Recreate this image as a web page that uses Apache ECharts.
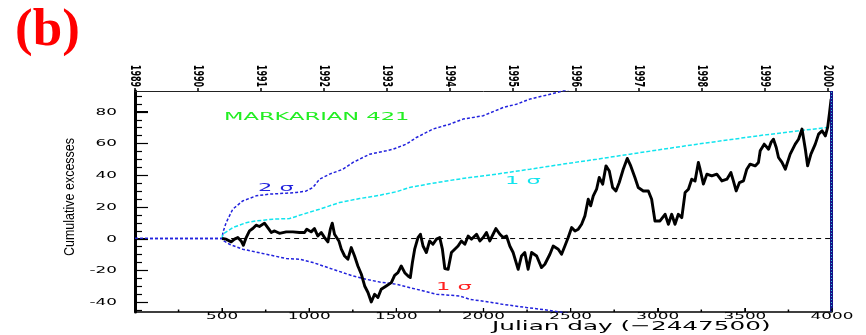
<!DOCTYPE html>
<html><head><meta charset="utf-8">
<script src="https://cdn.jsdelivr.net/npm/echarts@6/dist/echarts.min.js"></script>
<style>html,body{margin:0;padding:0;background:#fff}#c{width:866px;height:335px}</style>
</head><body><div id="c"></div>
<script>
// Cumulative excesses of Markarian 421 versus Julian day (offset 2447500)
const excessDays = [500, 503, 523, 552, 571, 590, 609, 622, 638, 657, 676, 695, 714, 743, 762, 782, 801, 829, 868, 906, 944, 973, 986, 1011, 1030, 1049, 1069, 1088, 1107, 1121, 1132, 1145, 1170, 1184, 1203, 1222, 1241, 1260, 1279, 1299, 1318, 1337, 1356, 1375, 1394, 1413, 1442, 1471, 1490, 1509, 1528, 1548, 1567, 1580, 1592, 1605, 1624, 1638, 1653, 1672, 1691, 1710, 1730, 1749, 1764, 1778, 1797, 1816, 1835, 1854, 1873, 1893, 1912, 1931, 1960, 1979, 1998, 2017, 2036, 2055, 2071, 2094, 2113, 2132, 2151, 2170, 2199, 2218, 2237, 2256, 2276, 2305, 2333, 2352, 2381, 2400, 2429, 2448, 2467, 2486, 2506, 2525, 2544, 2563, 2582, 2601, 2615, 2630, 2649, 2664, 2684, 2703, 2722, 2741, 2760, 2779, 2802, 2825, 2845, 2869, 2888, 2917, 2946, 2965, 2984, 3013, 3042, 3061, 3080, 3099, 3118, 3138, 3157, 3176, 3195, 3214, 3233, 3243, 3262, 3282, 3310, 3339, 3368, 3397, 3420, 3434, 3450, 3469, 3492, 3511, 3530, 3559, 3578, 3588, 3611, 3636, 3650, 3664, 3680, 3693, 3713, 3732, 3760, 3789, 3808, 3828, 3847, 3860, 3879, 3904, 3923, 3943, 3962, 3975, 3986, 3995];
const excessValues = [0, 0.6, -0.4, -2.1, -0.4, 0.6, -1.5, -4.2, 0.6, 4.8, 6.3, 8.4, 7.6, 9.7, 6.9, 3.8, 4.8, 3.3, 4.2, 4.2, 3.8, 3.8, 5.9, 4.2, 6.3, 1.6, 3.8, 0.6, -2.1, 5.9, 9.7, 2.7, -1.5, -6.7, -11, -13, -5.7, -11, -17.3, -22.5, -29.9, -34, -40, -35.1, -37.2, -32, -29.9, -27.8, -23.2, -21.5, -17.3, -21.5, -23.6, -24.6, -15.1, -6.7, 0.6, 2.7, -4.7, -8.8, -1.5, -3.6, -0.4, 0.6, -6.7, -18.9, -19.4, -8.8, -6.7, -4.7, -1.5, -3.6, 1.6, -0.4, 2.7, -1.5, 0.6, 3.8, -1.5, 2.7, 6.3, 2.7, 0.6, 1.6, -4.7, -8.8, -19.4, -11, -8.8, -19.4, -8.8, -11, -18.3, -16.2, -9.9, -4.7, -6.7, -9.9, -4.7, 0.6, 6.9, 4.8, 5.9, 9, 14.3, 24.8, 20.6, 26.9, 31.1, 38.5, 34.3, 45.8, 42.6, 32.2, 30, 35.3, 43.7, 50.5, 45.8, 38.5, 32.2, 30, 30, 24.8, 11.1, 11.1, 15.3, 9, 15.3, 9, 15.3, 13.2, 29, 31.1, 37.4, 36.3, 48, 43.7, 34.3, 40.6, 39.5, 40.6, 36.3, 37.4, 41.6, 36.3, 30, 35.3, 36.3, 43.7, 46.9, 45.8, 48, 55.3, 59.5, 56.3, 60.6, 62.6, 57.4, 51.1, 48, 43.7, 53.2, 59.5, 62.6, 69, 56.3, 45.8, 53.2, 59.5, 65.8, 67.9, 64.7, 70, 79.5, 88];

// +2 sigma envelope
const sigma2UpDays = [0, 500, 505, 523, 561, 618, 695, 772, 868, 925, 983, 1021, 1059, 1117, 1193, 1251, 1347, 1442, 1480, 1557, 1615, 1710, 1806, 1883, 1998, 2113, 2190, 2266, 2362, 2457, 2560];
const sigma2UpValues = [0, 0, 4, 10, 18.5, 23.7, 26.9, 28, 28.6, 29, 30, 32.2, 37.4, 40.6, 43.7, 48, 53.2, 55.3, 56.3, 59.5, 63.7, 69, 72.1, 75.3, 77.4, 82.6, 84.7, 87.9, 90.4, 93.1, 96];
// +1 sigma envelope
const sigma1UpDays = [500, 503, 561, 638, 695, 791, 887, 963, 1059, 1174, 1289, 1404, 1500, 1576, 1690, 1800, 1921, 2076, 2266, 2456, 2650, 2841, 3030, 3226, 3420, 3605, 3800, 3990];
const sigma1UpValues = [0, 2.7, 6.9, 10, 11.1, 12.2, 12.6, 15.3, 18.5, 22.7, 25.2, 27.3, 29.5, 32.2, 34.5, 36.5, 38.5, 40.6, 43.7, 46.9, 50, 53.2, 56.3, 59.5, 62.4, 65.2, 67.8, 70.2];
// -1 sigma envelope
const sigma1DownDays = [0, 500, 510, 542, 618, 753, 868, 944, 1021, 1136, 1251, 1328, 1404, 1500, 1730, 1864, 1921, 2055, 2113, 2247, 2343, 2439, 2520];
const sigma1DownValues = [0, 0, -1.5, -3.6, -6.7, -9.9, -12.6, -13, -15.1, -19.4, -23.6, -25.7, -27.4, -28.8, -35.1, -36.2, -38.3, -40.4, -41.5, -43.5, -44.8, -46.3, -48];

// Axis labels and tick positions
const xTickLabels = [500, 1000, 1500, 2000, 2500, 3000, 3500, 4000];
const xMinorTicks = [250, 750, 1250, 1750, 2250, 2750, 3250, 3750];
const yTickLabels = [-40, -20, 0, 20, 40, 60, 80];
const yMinorTicks = [-45, -35, -30, -25, -15, -10, -5, 5, 10, 15, 25, 30, 35, 45, 50, 55, 65, 70, 75, 85, 90];
const yearLabels = ['1989', '1990', '1991', '1992', '1993', '1994', '1995', '1996', '1997', '1998', '1999', '2000'];
const yearDays = [0, 362, 723, 1085, 1446, 1808, 2169, 2531, 2892, 3254, 3615, 3977];

const pairs = (xs, ys) => xs.map((x, i) => [x, ys[i]]);
const FONT = 'DejaVu Sans';
const Y_MIN = -46.3, Y_MAX = 93;

const chart = echarts.init(document.getElementById('c'), null, { renderer: 'canvas' });

// built-in labels stay invisible; the stretched tick labels are drawn as graphics below
const ghostLabel = { show: true, color: 'rgba(0,0,0,0)' };
const option = {
  animation: false,
  grid: { left: 135, right: 34, top: 91, bottom: 23 },
  xAxis: [{
    type: 'value', min: 0, max: 4000, position: 'bottom',
    axisLine: { show: true, onZero: false, lineStyle: { color: '#000', width: 1.5 } },
    axisTick: { show: true, inside: true, length: 4, customValues: xTickLabels, lineStyle: { color: '#000' } },
    axisLabel: ghostLabel, splitLine: { show: false }
  }, {
    type: 'value', min: 0, max: 4000, position: 'top',
    axisLine: { show: true, onZero: false, lineStyle: { color: '#222', width: 1 } },
    axisTick: { show: true, inside: false, length: 3, customValues: yearDays, lineStyle: { color: '#000', width: 1.5 } },
    axisLabel: ghostLabel, splitLine: { show: false }
  }],
  yAxis: {
    type: 'value', min: Y_MIN, max: Y_MAX, position: 'left',
    axisLine: { show: true, onZero: false, lineStyle: { color: '#000', width: 3 } },
    axisTick: { show: true, inside: true, length: 13, customValues: yTickLabels, lineStyle: { color: '#000' } },
    axisLabel: ghostLabel, splitLine: { show: false }
  },
  series: [
    {
      name: 'zero', type: 'line', data: [[500, 0], [4000, 0]], symbol: 'none', silent: true,
      lineStyle: { color: '#000', width: 1, type: [5, 4] }
    },
    {
      name: '+2 sigma', type: 'line', data: pairs(sigma2UpDays, sigma2UpValues), symbol: 'none', clip: true,
      lineStyle: { color: '#2222dd', width: 1.5, type: [3, 2] }
    },
    {
      name: '+1 sigma', type: 'line', data: pairs(sigma1UpDays, sigma1UpValues), symbol: 'none', clip: true,
      lineStyle: { color: '#11e4ee', width: 1.5, type: [4, 2] }
    },
    {
      name: '-1 sigma', type: 'line', data: pairs(sigma1DownDays, sigma1DownValues), symbol: 'none', clip: true,
      lineStyle: { color: '#2222dd', width: 1.5, type: [3, 2] }
    },
    {
      name: 'excess', type: 'line', data: pairs(excessDays, excessValues), symbol: 'none', clip: true,
      lineStyle: { color: '#000', width: 2.9, join: 'round' },
      markLine: {
        silent: true, symbol: 'none', label: { show: false },
        data: [
          { xAxis: 3996, lineStyle: { color: '#141488', width: 3, type: 'solid' } },
          { xAxis: 3996, lineStyle: { color: '#33c8e0', width: 1, type: [1, 2] } }
        ]
      }
    }
  ]
};
chart.setOption(option);

// Ticks, tick labels and annotations, placed through the grid's coordinate system
const toPx = (x, y) => chart.convertToPixel({ gridIndex: 0 }, [x, y]);
const yBottom = toPx(0, Y_MIN)[1];
const yTop = toPx(0, Y_MAX)[1];
const xLeft = toPx(0, 0)[0];
const tickLine = (x1, y1, x2, y2, w) => ({
  type: 'line', z: 10,
  shape: { x1: x1, y1: y1, x2: x2, y2: y2 }, style: { stroke: '#000', lineWidth: w }
});

const graphics = [];
xTickLabels.forEach(v => {
  const px = toPx(v, 0)[0];
  graphics.push(tickLine(px, yBottom, px, yBottom - 4, 1.3));
  graphics.push({
    type: 'text', x: px, y: 317, scaleX: 2.1, silent: true,
    style: { text: String(v), font: '8px "' + FONT + '"', fill: '#000', align: 'center', verticalAlign: 'middle' }
  });
});
xMinorTicks.forEach(v => {
  const px = toPx(v, 0)[0];
  graphics.push(tickLine(px, yBottom, px, yBottom - 2.5, 1.5));
});
yTickLabels.forEach(v => {
  const py = Math.round(toPx(0, v)[1]) + 0.5;
  graphics.push(tickLine(xLeft, py, xLeft + 13, py, 1.2));
  graphics.push({
    type: 'text', x: 117, y: py, scaleX: 2.1, silent: true,
    style: { text: String(v), font: '8px "' + FONT + '"', fill: '#000', align: 'right', verticalAlign: 'middle' }
  });
});
yMinorTicks.forEach(v => {
  const py = Math.round(toPx(0, v)[1]) + 0.5;
  graphics.push(tickLine(xLeft, py, xLeft + 7, py, 1.2));
});
yearLabels.forEach((t, i) => {
  const px = toPx(yearDays[i], 0)[0];
  graphics.push({
    type: 'text', x: px, y: 76, rotation: -Math.PI / 2, scaleY: 1.8, silent: true,
    style: { text: t, font: 'bold 8px "' + FONT + '"', fill: '#000', align: 'center', verticalAlign: 'middle' }
  });
});
graphics.push(
  { type: 'text', x: 15, y: 31, silent: true,
    style: { text: '(b)', font: 'bold 53px "Liberation Serif"', fill: '#ff0000', align: 'left', verticalAlign: 'middle' } },
  { type: 'text', x: 224, y: 117, scaleX: 2.15, silent: true,
    style: { text: 'MARKARIAN 421', font: '10.5px "' + FONT + '"', fill: '#22ee22', align: 'left', verticalAlign: 'middle' } },
  { type: 'text', x: 258, y: 188, scaleX: 2.15, silent: true,
    style: { text: '2 σ', font: '10.5px "' + FONT + '"', fill: '#2222dd', align: 'left', verticalAlign: 'middle' } },
  { type: 'text', x: 505, y: 181, scaleX: 2.15, silent: true,
    style: { text: '1 σ', font: '10.5px "' + FONT + '"', fill: '#11e4ee', align: 'left', verticalAlign: 'middle' } },
  { type: 'text', x: 436, y: 287, scaleX: 2.15, silent: true,
    style: { text: '1 σ', font: '10.5px "' + FONT + '"', fill: '#ff2020', align: 'left', verticalAlign: 'middle' } },
  { type: 'text', x: 492, y: 327, scaleX: 1.9, silent: true,
    style: { text: 'Julian day (−2447500)', font: '13px "' + FONT + '"', fill: '#000', align: 'left', verticalAlign: 'middle' } },
  { type: 'text', x: 70, y: 197, rotation: Math.PI / 2, scaleY: 1.2, silent: true,
    style: { text: 'Cumulative excesses', font: '12.5px "Liberation Sans"', fill: '#000', align: 'center', verticalAlign: 'middle' } }
);
chart.setOption({ graphic: graphics });
</script>
</body></html>
